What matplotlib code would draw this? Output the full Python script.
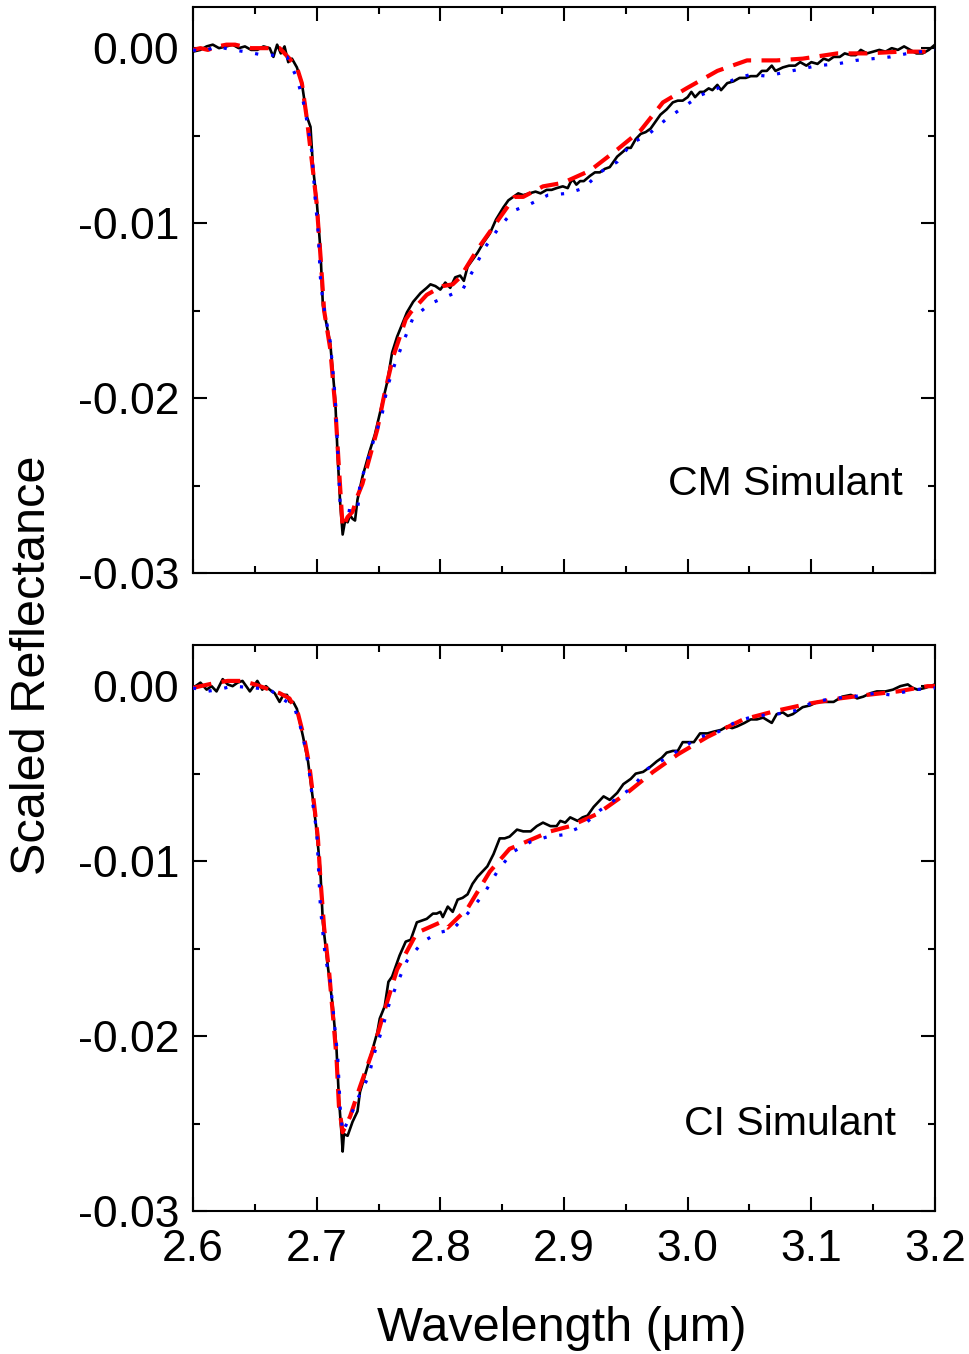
import numpy as np
import matplotlib
matplotlib.use("Agg")
import matplotlib.pyplot as plt
from matplotlib.ticker import MultipleLocator

plt.rcParams['font.family'] = ['Liberation Sans', 'DejaVu Sans']

# ---- CM simulant (top panel) ----
cm_meas_x = [2.600, 2.606, 2.611, 2.616, 2.621, 2.627, 2.632, 2.637, 2.642, 2.647, 2.652, 2.657,
             2.662, 2.665, 2.668, 2.671, 2.674, 2.677, 2.680, 2.684, 2.688, 2.692, 2.695, 2.697,
             2.700, 2.703, 2.705, 2.711, 2.715, 2.717, 2.719, 2.721, 2.723, 2.725, 2.727, 2.729,
             2.731, 2.733, 2.737, 2.743, 2.747, 2.751, 2.757, 2.761, 2.765, 2.769, 2.773, 2.778,
             2.784, 2.789, 2.792, 2.796, 2.800, 2.804, 2.808, 2.812, 2.816, 2.819, 2.822, 2.826,
             2.830, 2.835, 2.840, 2.845, 2.851, 2.855, 2.859, 2.863, 2.867, 2.872, 2.877, 2.881,
             2.886, 2.890, 2.894, 2.899, 2.903, 2.905, 2.907, 2.910, 2.913, 2.916, 2.921, 2.925,
             2.929, 2.933, 2.937, 2.940, 2.943, 2.948, 2.951, 2.954, 2.958, 2.962, 2.966, 2.970,
             2.974, 2.978, 2.983, 2.988, 2.992, 2.996, 3.000, 3.003, 3.006, 3.010, 3.013, 3.017,
             3.020, 3.024, 3.027, 3.032, 3.037, 3.042, 3.047, 3.051, 3.056, 3.060, 3.064, 3.068,
             3.071, 3.077, 3.082, 3.087, 3.091, 3.096, 3.100, 3.105, 3.110, 3.114, 3.118, 3.123,
             3.127, 3.132, 3.136, 3.140, 3.145, 3.150, 3.155, 3.160, 3.165, 3.170, 3.175, 3.180,
             3.185, 3.190, 3.195, 3.200]
cm_meas_y = [-0.0002, -0.0001, 0.0001, 0.0002, 0.0000, 0.0001, 0.0002, 0.0000, 0.0001, -0.0001, -0.0001, 0.0001,
             0.0000, -0.0005, 0.0002, -0.0003, 0.0001, -0.0008, -0.0006, -0.0011, -0.0020, -0.0039, -0.0045, -0.0068,
             -0.0087, -0.0115, -0.0147, -0.0169, -0.0201, -0.0234, -0.0260, -0.0278, -0.0270, -0.0271, -0.0267, -0.0269,
             -0.0270, -0.0258, -0.0245, -0.0230, -0.0221, -0.0209, -0.0191, -0.0174, -0.0165, -0.0158, -0.0151, -0.0145,
             -0.0140, -0.0137, -0.0135, -0.0136, -0.0138, -0.0134, -0.0137, -0.0131, -0.0130, -0.0133, -0.0125, -0.0121,
             -0.0117, -0.0111, -0.0106, -0.0098, -0.0091, -0.0087, -0.0085, -0.0083, -0.0084, -0.0083, -0.0082, -0.0083,
             -0.0081, -0.0081, -0.0080, -0.0079, -0.0080, -0.0077, -0.0075, -0.0078, -0.0076, -0.0076, -0.0073, -0.0071,
             -0.0071, -0.0069, -0.0068, -0.0065, -0.0062, -0.0059, -0.0057, -0.0057, -0.0052, -0.0049, -0.0048, -0.0046,
             -0.0042, -0.0038, -0.0035, -0.0031, -0.0030, -0.0030, -0.0028, -0.0025, -0.0028, -0.0025, -0.0025, -0.0023,
             -0.0024, -0.0021, -0.0024, -0.0020, -0.0019, -0.0017, -0.0017, -0.0016, -0.0016, -0.0013, -0.0013, -0.0010,
             -0.0013, -0.0011, -0.0010, -0.0010, -0.0008, -0.0010, -0.0008, -0.0009, -0.0006, -0.0007, -0.0005, -0.0005,
             -0.0003, -0.0004, -0.0004, -0.0001, -0.0003, -0.0002, -0.0001, -0.0002, 0.0000, -0.0001, 0.0001, -0.0001,
             -0.0003, -0.0003, -0.0001, 0.0002]

cm_fit1_x = [2.600, 2.606, 2.612, 2.620, 2.627, 2.634, 2.640, 2.647, 2.655, 2.662, 2.670, 2.678,
             2.684, 2.688, 2.692, 2.697, 2.700, 2.703, 2.706, 2.711, 2.715, 2.718, 2.721, 2.725,
             2.729, 2.733, 2.737, 2.749, 2.755, 2.762, 2.772, 2.776, 2.789, 2.794, 2.802, 2.810,
             2.816, 2.830, 2.848, 2.860, 2.867, 2.883, 2.899, 2.921, 2.943, 2.962, 2.980, 2.999,
             3.024, 3.048, 3.072, 3.093, 3.121, 3.145, 3.172, 3.194, 3.200]
cm_fit1_y = [-0.0001, 0.0000, -0.0001, 0.0001, 0.0002, 0.0002, 0.0001, 0.0000, 0.0000, 0.0000, 0.0000, -0.0006,
             -0.0011, -0.0020, -0.0040, -0.0070, -0.0089, -0.0118, -0.0150, -0.0172, -0.0205, -0.0240, -0.0274, -0.0268,
             -0.0265, -0.0256, -0.0249, -0.0218, -0.0197, -0.0176, -0.0155, -0.0151, -0.0141, -0.0139, -0.0136, -0.0135,
             -0.0131, -0.0115, -0.0097, -0.0085, -0.0085, -0.0079, -0.0077, -0.0070, -0.0058, -0.0047, -0.0031, -0.0023,
             -0.0013, -0.0007, -0.0007, -0.0006, -0.0003, -0.0003, -0.0002, -0.0002, -0.0004]

cm_fit2_x = [2.600, 2.608, 2.619, 2.632, 2.642, 2.657, 2.668, 2.676, 2.684, 2.689, 2.693, 2.696,
             2.699, 2.701, 2.703, 2.705, 2.711, 2.715, 2.717, 2.719, 2.723, 2.733, 2.735, 2.741,
             2.747, 2.753, 2.757, 2.763, 2.770, 2.778, 2.792, 2.805, 2.818, 2.828, 2.836, 2.847,
             2.859, 2.873, 2.887, 2.903, 2.916, 2.929, 2.943, 2.955, 2.967, 2.982, 2.996, 3.010,
             3.024, 3.037, 3.051, 3.064, 3.077, 3.091, 3.105, 3.121, 3.136, 3.150, 3.164, 3.178,
             3.200]
cm_fit2_y = [-0.0001, -0.0002, 0.0001, -0.0001, -0.0002, -0.0004, -0.0004, -0.0005, -0.0017, -0.0030, -0.0045, -0.0059,
             -0.0088, -0.0103, -0.0131, -0.0145, -0.0168, -0.0200, -0.0230, -0.0261, -0.0264, -0.0265, -0.0249, -0.0236,
             -0.0222, -0.0209, -0.0194, -0.0181, -0.0168, -0.0154, -0.0146, -0.0142, -0.0138, -0.0125, -0.0114, -0.0103,
             -0.0093, -0.0089, -0.0084, -0.0083, -0.0080, -0.0071, -0.0065, -0.0054, -0.0050, -0.0041, -0.0034, -0.0027,
             -0.0023, -0.0018, -0.0015, -0.0016, -0.0014, -0.0012, -0.0010, -0.0009, -0.0007, -0.0006, -0.0005, -0.0003,
             -0.0001]

# ---- CI simulant (bottom panel) ----
ci_meas_x = [2.600, 2.606, 2.611, 2.615, 2.619, 2.624, 2.628, 2.632, 2.636, 2.640, 2.646, 2.652,
             2.656, 2.659, 2.662, 2.666, 2.670, 2.673, 2.676, 2.678, 2.681, 2.684, 2.689, 2.693,
             2.697, 2.700, 2.703, 2.705, 2.709, 2.713, 2.716, 2.718, 2.720, 2.721, 2.722, 2.725,
             2.729, 2.733, 2.735, 2.743, 2.749, 2.751, 2.755, 2.758, 2.761, 2.767, 2.772, 2.776,
             2.781, 2.785, 2.789, 2.794, 2.797, 2.800, 2.802, 2.806, 2.810, 2.814, 2.818, 2.822,
             2.826, 2.830, 2.834, 2.838, 2.843, 2.848, 2.852, 2.856, 2.862, 2.867, 2.873, 2.878,
             2.883, 2.889, 2.894, 2.897, 2.901, 2.905, 2.911, 2.915, 2.919, 2.924, 2.928, 2.932,
             2.937, 2.943, 2.948, 2.954, 2.958, 2.964, 2.970, 2.975, 2.979, 2.983, 2.988, 2.992,
             2.996, 3.000, 3.005, 3.010, 3.016, 3.021, 3.027, 3.032, 3.036, 3.040, 3.046, 3.051,
             3.056, 3.061, 3.068, 3.072, 3.077, 3.081, 3.085, 3.093, 3.099, 3.105, 3.111, 3.118,
             3.125, 3.132, 3.137, 3.142, 3.148, 3.153, 3.160, 3.166, 3.172, 3.178, 3.182, 3.186,
             3.192, 3.200]
ci_meas_y = [-0.0001, 0.0002, -0.0002, 0.0000, -0.0003, 0.0004, 0.0001, 0.0000, 0.0002, 0.0003, -0.0003, 0.0003,
             -0.0002, 0.0000, -0.0002, -0.0004, -0.0009, -0.0005, -0.0005, -0.0009, -0.0009, -0.0013, -0.0029, -0.0043,
             -0.0065, -0.0083, -0.0106, -0.0135, -0.0160, -0.0183, -0.0207, -0.0236, -0.0255, -0.0266, -0.0256, -0.0257,
             -0.0249, -0.0243, -0.0232, -0.0213, -0.0198, -0.0190, -0.0183, -0.0169, -0.0166, -0.0154, -0.0146, -0.0145,
             -0.0135, -0.0134, -0.0133, -0.0130, -0.0130, -0.0129, -0.0132, -0.0126, -0.0129, -0.0122, -0.0121, -0.0119,
             -0.0113, -0.0109, -0.0106, -0.0103, -0.0096, -0.0087, -0.0087, -0.0086, -0.0082, -0.0083, -0.0083, -0.0080,
             -0.0078, -0.0080, -0.0080, -0.0077, -0.0078, -0.0075, -0.0077, -0.0075, -0.0074, -0.0069, -0.0066, -0.0063,
             -0.0065, -0.0061, -0.0056, -0.0053, -0.0050, -0.0049, -0.0046, -0.0043, -0.0041, -0.0038, -0.0037, -0.0037,
             -0.0032, -0.0032, -0.0032, -0.0027, -0.0027, -0.0026, -0.0025, -0.0023, -0.0024, -0.0023, -0.0021, -0.0019,
             -0.0019, -0.0018, -0.0021, -0.0016, -0.0015, -0.0017, -0.0016, -0.0012, -0.0011, -0.0009, -0.0009, -0.0009,
             -0.0006, -0.0005, -0.0007, -0.0006, -0.0004, -0.0003, -0.0003, -0.0002, 0.0000, 0.0001, -0.0001, -0.0002,
             -0.0001, 0.0001]

ci_fit1_x = [2.600, 2.606, 2.619, 2.628, 2.640, 2.650, 2.662, 2.670, 2.678, 2.685, 2.690, 2.694,
             2.698, 2.701, 2.703, 2.706, 2.710, 2.713, 2.716, 2.718, 2.721, 2.727, 2.735, 2.746,
             2.755, 2.765, 2.781, 2.800, 2.806, 2.822, 2.840, 2.856, 2.889, 2.905, 2.927, 2.951,
             2.972, 2.992, 3.016, 3.045, 3.072, 3.098, 3.123, 3.145, 3.170, 3.194, 3.200]
ci_fit1_y = [-0.0001, 0.0000, 0.0002, 0.0003, 0.0003, 0.0001, -0.0002, -0.0004, -0.0007, -0.0016, -0.0030, -0.0045,
             -0.0068, -0.0087, -0.0110, -0.0138, -0.0163, -0.0187, -0.0212, -0.0240, -0.0255, -0.0246, -0.0229, -0.0207,
             -0.0185, -0.0162, -0.0141, -0.0135, -0.0138, -0.0127, -0.0106, -0.0093, -0.0083, -0.0080, -0.0073, -0.0061,
             -0.0049, -0.0039, -0.0029, -0.0019, -0.0014, -0.0010, -0.0007, -0.0005, -0.0003, 0.0000, 0.0000]

ci_fit2_x = [2.600, 2.611, 2.620, 2.632, 2.650, 2.662, 2.682, 2.688, 2.692, 2.695, 2.697, 2.700,
             2.701, 2.703, 2.705, 2.707, 2.711, 2.713, 2.717, 2.719, 2.721, 2.729, 2.733, 2.742,
             2.747, 2.753, 2.758, 2.765, 2.773, 2.786, 2.798, 2.810, 2.822, 2.835, 2.846, 2.858,
             2.873, 2.887, 2.899, 2.915, 2.929, 2.955, 2.968, 2.983, 2.996, 3.010, 3.025, 3.040,
             3.055, 3.072, 3.087, 3.102, 3.118, 3.134, 3.152, 3.164, 3.184, 3.200]
ci_fit2_y = [-0.0001, -0.0003, -0.0002, 0.0000, -0.0001, -0.0002, -0.0012, -0.0026, -0.0040, -0.0054, -0.0068, -0.0083,
             -0.0097, -0.0126, -0.0141, -0.0155, -0.0169, -0.0183, -0.0212, -0.0241, -0.0255, -0.0243, -0.0236, -0.0223,
             -0.0209, -0.0196, -0.0183, -0.0170, -0.0157, -0.0146, -0.0141, -0.0139, -0.0130, -0.0119, -0.0106, -0.0095,
             -0.0089, -0.0086, -0.0085, -0.0080, -0.0071, -0.0058, -0.0047, -0.0041, -0.0035, -0.0029, -0.0026, -0.0020,
             -0.0017, -0.0016, -0.0014, -0.0009, -0.0007, -0.0006, -0.0004, -0.0005, -0.0002, -0.0001]

panels = [
    ("CM Simulant", cm_meas_x, cm_meas_y, cm_fit1_x, cm_fit1_y, cm_fit2_x, cm_fit2_y),
    ("CI Simulant", ci_meas_x, ci_meas_y, ci_fit1_x, ci_fit1_y, ci_fit2_x, ci_fit2_y),
]
x_ticks = [2.6, 2.7, 2.8, 2.9, 3.0, 3.1, 3.2]
y_ticks = [0.00, -0.01, -0.02, -0.03]
y_ticklabels = ["0.00", "-0.01", "-0.02", "-0.03"]

fig = plt.figure(figsize=(9.69, 13.54), dpi=100)
ax_top = fig.add_axes([0.1992, 0.5768, 0.7657, 0.4180])
ax_bot = fig.add_axes([0.1992, 0.1056, 0.7657, 0.4180])
label_pos = [(3.174, -0.0249), (3.168, -0.0250)]

for ax, (name, mx, my, f1x, f1y, f2x, f2y), lp in zip([ax_top, ax_bot], panels, label_pos):
    ax.plot(mx, my, color='black', lw=1.9, zorder=3)
    ax.plot(f1x, f1y, color='red', lw=3.0, dashes=(4.5, 2.5), zorder=4)
    ax.plot(f2x, f2y, color='blue', lw=2.3, dashes=(1.0, 4.0), zorder=5)
    ax.set_xlim(2.6, 3.2)
    ax.set_ylim(-0.03, 0.00235)
    ax.set_xticks(x_ticks)
    ax.set_yticks(y_ticks)
    ax.set_yticklabels(y_ticklabels)
    ax.xaxis.set_minor_locator(MultipleLocator(0.05))
    ax.yaxis.set_minor_locator(MultipleLocator(0.005))
    ax.tick_params(which='both', direction='in', top=True, right=True, width=1.5, labelsize=32)
    ax.tick_params(which='major', length=10)
    ax.tick_params(which='minor', length=5)
    ax.tick_params(axis='y', pad=10)
    ax.tick_params(axis='x', pad=13)
    for sp in ax.spines.values():
        sp.set_linewidth(1.5)
    ax.text(lp[0], lp[1], name, fontsize=29.5, ha='right', va='center')

ax_top.set_xticklabels([])
ax_bot.set_xticklabels([f"{t:.1f}" for t in x_ticks])

fig.text(0.034, 0.509, "Scaled Reflectance", rotation=90, fontsize=35, ha='center', va='center')
fig.text(0.580, 0.0192, "Wavelength (\u03bcm)", fontsize=35, ha='center', va='center')

fig.savefig("out.png", dpi=100)
